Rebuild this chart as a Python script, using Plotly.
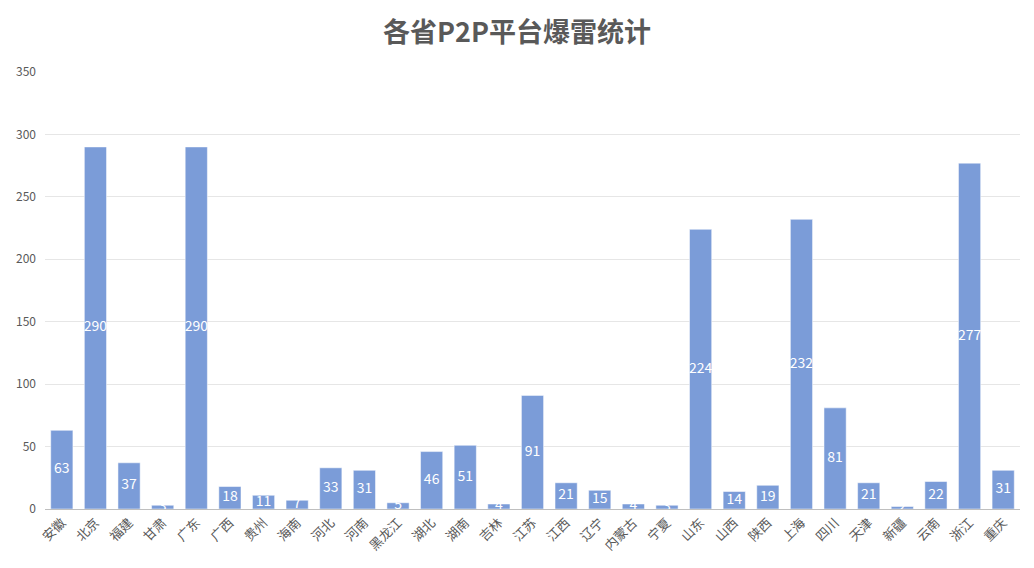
import plotly.graph_objects as go

provinces = ["安徽", "北京", "福建", "甘肃", "广东", "广西", "贵州", "海南", "河北", "河南",
             "黑龙江", "湖北", "湖南", "吉林", "江苏", "江西", "辽宁", "内蒙古", "宁夏", "山东",
             "山西", "陕西", "上海", "四川", "天津", "新疆", "云南", "浙江", "重庆"]
counts = [63, 290, 37, 3, 290, 18, 11, 7, 33, 31,
          5, 46, 51, 4, 91, 21, 15, 4, 3, 224,
          14, 19, 232, 81, 21, 2, 22, 277, 31]

font_cjk = "Noto Sans CJK SC, Microsoft YaHei, sans-serif"

fig = go.Figure()
fig.add_trace(go.Bar(
    x=provinces, y=counts,
    marker=dict(color="#7b9cd8", line=dict(color="#ffffff", width=0.5)),
    hoverinfo="x+y",
))
# data labels centred in each bar (white, so overflow on white background vanishes)
fig.add_trace(go.Scatter(
    x=provinces, y=[v / 2 for v in counts],
    mode="text",
    text=[str(v) for v in counts],
    textposition="middle center",
    textfont=dict(color="#ffffff", size=14, family=font_cjk),
    hoverinfo="skip",
    cliponaxis=True,
))

fig.update_layout(
    width=1034, height=568,
    margin=dict(l=45, r=14, t=72, b=59),
    paper_bgcolor="#ffffff", plot_bgcolor="#ffffff",
    bargap=0.34,
    showlegend=False,
    title=dict(text="<b>各省P2P平台爆雷统计</b>", x=0.5, xanchor="center", y=0.943, yanchor="middle",
               font=dict(size=27, color="#595959", family=font_cjk)),
    font=dict(family=font_cjk, color="#595959", size=12),
)
fig.update_xaxes(tickangle=-45, tickfont=dict(size=13, color="#595959"),
                 range=[-0.5, len(provinces) - 0.5],
                 showline=True, linecolor="#bfbfbf", linewidth=1, ticks="", showgrid=False,
                 layer="above traces")
fig.update_yaxes(range=[0, 350], dtick=50, showgrid=True, gridcolor="#e6e6e6", gridwidth=1,
                 zeroline=False, showline=False, ticks="", tickfont=dict(size=12, color="#595959"),
                 ticklabelstandoff=8)

fig.write_html("out.html")
